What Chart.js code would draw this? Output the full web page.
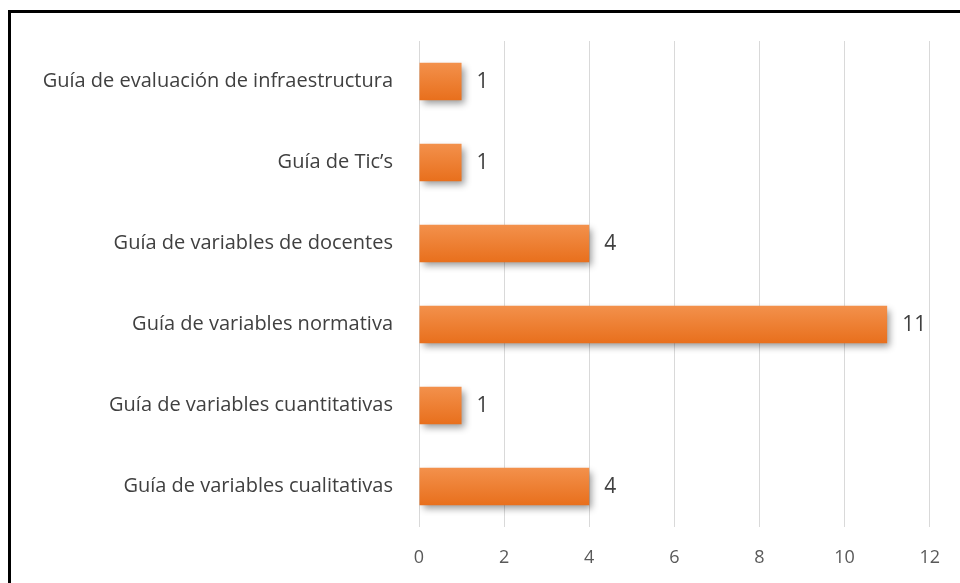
<!DOCTYPE html>
<html>
<head>
<meta charset="utf-8">
<script src="https://cdn.jsdelivr.net/npm/chart.js@4.4.1/dist/chart.umd.min.js"></script>
<style>
  html, body { margin: 0; padding: 0; background: #fff; }
  #wrap { position: relative; width: 960px; height: 583px; overflow: hidden; }
  #frame {
    position: absolute; left: 8px; top: 10px; width: 1000px; height: 600px;
    border-top: 3px solid #000; border-left: 3px solid #000;
    box-sizing: border-box; pointer-events: none;
  }
  canvas { position: absolute; left: 0; top: 0; }
</style>
</head>
<body>
<div id="wrap">
  <canvas id="chart" width="960" height="583"></canvas>
  <div id="frame"></div>
</div>
<script>
const categories = [
  'Guía de evaluación de infraestructura',
  'Guía de Tic’s',
  'Guía de variables de docentes',
  'Guía de variables normativa',
  'Guía de variables cuantitativas',
  'Guía de variables cualitativas'
];
const values = [1, 1, 4, 11, 1, 4];
const xTicks = [0, 2, 4, 6, 8, 10, 12];

const FONT = "'Open Sans', 'Liberation Sans', sans-serif";

// orange fill, lighter at the top edge of each bar
function barFill(context) {
  const chart = context.chart;
  if (!chart.chartArea || !chart.scales.y) return '#ED7D31';
  const y = chart.scales.y.getPixelForValue(context.dataIndex);
  const g = chart.ctx.createLinearGradient(0, y - 19, 0, y + 19);
  g.addColorStop(0, '#F3914C');
  g.addColorStop(1, '#E86F1C');
  return g;
}

const barShadow = {
  id: 'barShadow',
  beforeDatasetsDraw(chart) {
    const ctx = chart.ctx;
    ctx.save();
    ctx.shadowColor = 'rgba(0,0,0,0.4)';
    ctx.shadowBlur = 7;
    ctx.shadowOffsetX = 3;
    ctx.shadowOffsetY = 4;
  },
  afterDatasetsDraw(chart) {
    chart.ctx.restore();
  }
};

const valueLabels = {
  id: 'valueLabels',
  afterDatasetsDraw(chart) {
    const ctx = chart.ctx;
    const meta = chart.getDatasetMeta(0);
    ctx.save();
    ctx.font = '21px ' + FONT;
    ctx.fillStyle = '#404040';
    ctx.textAlign = 'left';
    ctx.textBaseline = 'middle';
    meta.data.forEach((bar, i) => {
      ctx.fillText(String(values[i]), bar.x + 15, bar.y + 1);
    });
    ctx.restore();
  }
};

new Chart(document.getElementById('chart'), {
  type: 'bar',
  data: {
    labels: categories,
    datasets: [{
      data: values,
      backgroundColor: barFill,
      borderWidth: 0,
      barPercentage: 0.46,
      categoryPercentage: 1
    }]
  },
  options: {
    indexAxis: 'y',
    responsive: false,
    animation: false,
    devicePixelRatio: 1,
    layout: { padding: { top: 41, right: 29, bottom: 0, left: 0 } },
    plugins: {
      legend: { display: false },
      tooltip: { enabled: false }
    },
    scales: {
      x: {
        min: 0,
        max: 12,
        afterBuildTicks(scale) {
          scale.ticks = xTicks.map(v => ({ value: v }));
        },
        afterFit(scale) { scale.height = 56; },
        grid: { color: '#D9D9D9', lineWidth: 1, drawTicks: false },
        border: { display: false },
        ticks: {
          padding: 20,
          color: '#595959',
          font: { family: FONT, size: 18 }
        }
      },
      y: {
        afterFit(scale) { scale.width = 419; },
        grid: { display: false, drawTicks: false },
        border: { display: false },
        ticks: {
          padding: 26,
          color: '#404040',
          font: { family: FONT, size: 20 }
        }
      }
    }
  },
  plugins: [barShadow, valueLabels]
});
</script>
</body>
</html>
